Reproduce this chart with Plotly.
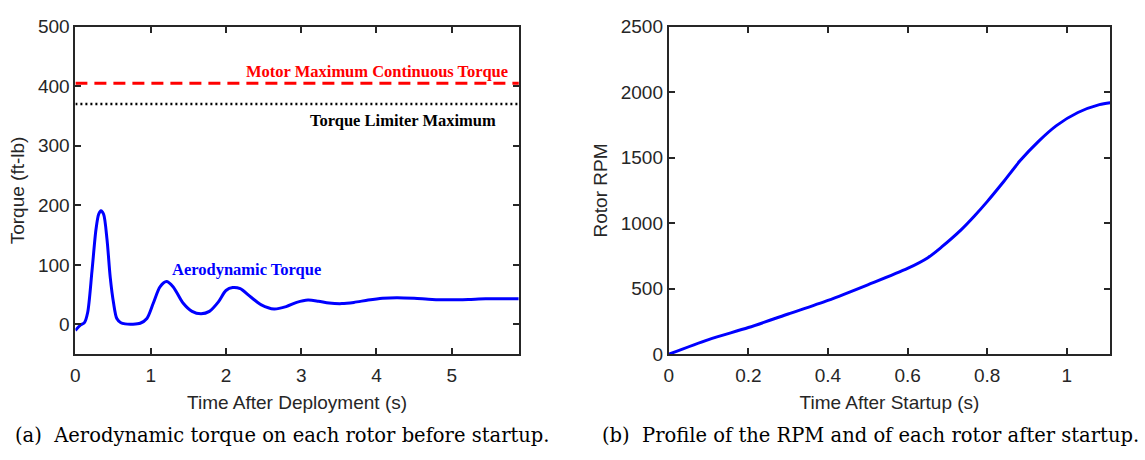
import plotly.graph_objects as go

# ---- data ----
torque_t = [0.0, 0.066, 0.12, 0.163, 0.22, 0.273, 0.309, 0.34, 0.375, 0.42, 0.463, 0.507, 0.55, 0.604,
            0.66, 0.76, 0.86, 0.95, 1.036, 1.124, 1.21, 1.3, 1.43, 1.55, 1.67, 1.78, 1.90, 2.0, 2.09,
            2.19, 2.33, 2.47, 2.64, 2.80, 2.94, 3.09, 3.23, 3.37, 3.54, 3.70, 3.89, 4.08, 4.27, 4.5,
            4.74, 4.98, 5.22, 5.45, 5.89]
torque_v = [-10, -1, 3, 20, 89, 159, 185, 191, 185, 143, 79, 36, 10, 3,
            1, 0.5, 2, 10, 36, 63, 72, 63, 36, 22, 18, 22, 38, 57, 62,
            60, 46, 33, 26, 30, 37, 41, 39, 36, 35, 37, 41, 44, 45, 44,
            42, 41.5, 42, 43, 43]

motor_max = 405
limiter_max = 370
limit_x = [0, 5.9]

rpm_t = [0.0, 0.1, 0.2, 0.3, 0.4, 0.5, 0.6, 0.651, 0.685, 0.735, 0.768, 0.8, 0.838, 0.883,
         0.929, 0.974, 1.028, 1.082, 1.109]
rpm_v = [0, 112, 204, 307, 411, 530, 655, 737, 817, 951, 1055, 1165, 1305, 1478,
         1625, 1745, 1845, 1905, 1920]

left_xticks = [0, 1, 2, 3, 4, 5]
left_yticks = [0, 100, 200, 300, 400, 500]
right_xticks = [0, 0.2, 0.4, 0.6, 0.8, 1]
right_yticks = [0, 500, 1000, 1500, 2000, 2500]

W, H = 1145, 460
AX = "#262626"
SANS = "Liberation Sans, Arial, Helvetica"
TICKFONT = dict(family=SANS, size=19, color=AX)

fig = go.Figure()
fig.add_trace(go.Scatter(x=limit_x, y=[motor_max, motor_max], mode="lines",
                         line=dict(color="#ff0000", width=3, dash="12px,7px"),
                         xaxis="x", yaxis="y", showlegend=False, hoverinfo="skip"))
fig.add_trace(go.Scatter(x=limit_x, y=[limiter_max, limiter_max], mode="lines",
                         line=dict(color="#000000", width=2.5, dash="2px,3px"),
                         xaxis="x", yaxis="y", showlegend=False, hoverinfo="skip"))
fig.add_trace(go.Scatter(x=torque_t, y=torque_v, mode="lines",
                         line=dict(color="#0000ff", width=3, shape="spline", smoothing=0.8),
                         xaxis="x", yaxis="y", showlegend=False))
fig.add_trace(go.Scatter(x=rpm_t, y=rpm_v, mode="lines",
                         line=dict(color="#0000ff", width=3, shape="spline", smoothing=0.8),
                         xaxis="x2", yaxis="y2", showlegend=False))

def axis(dom, rng, ticks, anchor, title, standoff, lblstand):
    return dict(domain=dom, range=rng, tickvals=ticks, ticks="inside", ticklen=6, tickwidth=2,
                tickcolor=AX, showline=True, linecolor=AX, linewidth=2, mirror="ticks",
                showgrid=False, zeroline=False, tickfont=TICKFONT, anchor=anchor,
                ticklabelstandoff=lblstand,
                title=dict(text=title, font=dict(family=SANS, size=19, color=AX),
                           standoff=standoff))

ydom = [99.3 / H, 442.5 / H]
fig.update_layout(
    width=W, height=H, margin=dict(l=0, r=0, t=0, b=0),
    paper_bgcolor="white", plot_bgcolor="white",
    xaxis=axis([70.7 / W, 516 / W], [0, 5.89], left_xticks, "y", "Time After Deployment (s)", 11, 3),
    yaxis=axis(ydom, [-50, 500], left_yticks, "x", "Torque (ft-lb)", 8, 0),
    xaxis2=axis([666.7 / W, 1110 / W], [0, 1.109], right_xticks, "y2", "Time After Startup (s)", 11, 3),
    yaxis2=axis(ydom, [0, 2500], right_yticks, "x2", "Rotor RPM", 8, 0),
)

serif_b = "Liberation Serif, Times New Roman, serif"
fig.add_annotation(x=5.77, y=424, xref="x", yref="y", text="<b>Motor Maximum Continuous Torque</b>",
                   showarrow=False, xanchor="right", yanchor="middle",
                   font=dict(family=serif_b, size=16.5, color="#ff0000"))
fig.add_annotation(x=5.61, y=342, xref="x", yref="y", text="<b>Torque Limiter Maximum</b>",
                   showarrow=False, xanchor="right", yanchor="middle",
                   font=dict(family=serif_b, size=16.5, color="#000000"))
fig.add_annotation(x=2.27, y=92, xref="x", yref="y", text="<b>Aerodynamic Torque</b>",
                   showarrow=False, xanchor="center", yanchor="middle",
                   font=dict(family=serif_b, size=16.5, color="#0000ff"))

cap_font = dict(family="DejaVu Serif, serif", size=19.5, color="#000000")
fig.add_annotation(x=8 / W, y=(H - 446) / H, xref="paper", yref="paper",
                   text="(a)\u00a0 Aerodynamic torque on each rotor before startup.",
                   showarrow=False, xanchor="left", yanchor="middle", font=cap_font)
fig.add_annotation(x=598 / W, y=(H - 446) / H, xref="paper", yref="paper",
                   text="(b)\u00a0 Profile of the RPM and of each rotor after startup.",
                   showarrow=False, xanchor="left", yanchor="middle", font=cap_font)

fig.write_html("out.html")
